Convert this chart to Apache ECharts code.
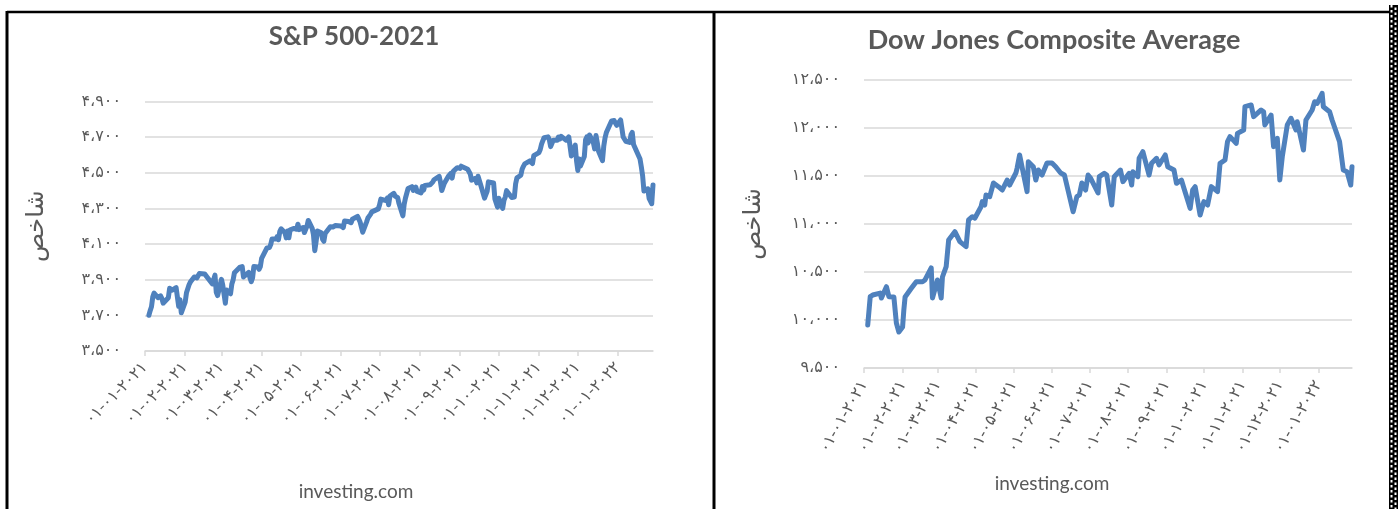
<!DOCTYPE html>
<html>
<head>
<meta charset="utf-8">
<script src="https://cdn.jsdelivr.net/npm/echarts@6/dist/echarts.min.js"></script>
<style>
html,body{margin:0;padding:0;background:#fff;}
#c{width:1398px;height:509px;}
</style>
</head>
<body>
<div id="c"></div>
<script>
// ---------- S&P 500 (left chart) ----------
const spDates = [
'2021-01-04','2021-01-05','2021-01-06','2021-01-07','2021-01-08','2021-01-11','2021-01-12','2021-01-13','2021-01-14','2021-01-15','2021-01-19','2021-01-20','2021-01-21','2021-01-22','2021-01-25','2021-01-26','2021-01-27','2021-01-28','2021-01-29',
'2021-02-01','2021-02-02','2021-02-03','2021-02-04','2021-02-05','2021-02-08','2021-02-09','2021-02-10','2021-02-11','2021-02-12','2021-02-16','2021-02-17','2021-02-18','2021-02-19','2021-02-22','2021-02-23','2021-02-24','2021-02-25','2021-02-26',
'2021-03-01','2021-03-02','2021-03-03','2021-03-04','2021-03-05','2021-03-08','2021-03-09','2021-03-10','2021-03-11','2021-03-12','2021-03-15','2021-03-16','2021-03-17','2021-03-18','2021-03-19','2021-03-22','2021-03-23','2021-03-24','2021-03-25','2021-03-26','2021-03-29','2021-03-30','2021-03-31',
'2021-04-01','2021-04-05','2021-04-06','2021-04-07','2021-04-08','2021-04-09','2021-04-12','2021-04-13','2021-04-14','2021-04-15','2021-04-16','2021-04-19','2021-04-20','2021-04-21','2021-04-22','2021-04-23','2021-04-26','2021-04-27','2021-04-28','2021-04-29','2021-04-30',
'2021-05-03','2021-05-04','2021-05-05','2021-05-06','2021-05-07','2021-05-10','2021-05-11','2021-05-12','2021-05-13','2021-05-14','2021-05-17','2021-05-18','2021-05-19','2021-05-20','2021-05-21','2021-05-24','2021-05-25','2021-05-26','2021-05-27','2021-05-28',
'2021-06-01','2021-06-02','2021-06-03','2021-06-04','2021-06-07','2021-06-08','2021-06-09','2021-06-10','2021-06-11','2021-06-14','2021-06-15','2021-06-16','2021-06-17','2021-06-18','2021-06-21','2021-06-22','2021-06-23','2021-06-24','2021-06-25','2021-06-28','2021-06-29','2021-06-30',
'2021-07-01','2021-07-02','2021-07-06','2021-07-07','2021-07-08','2021-07-09','2021-07-12','2021-07-13','2021-07-14','2021-07-15','2021-07-16','2021-07-19','2021-07-20','2021-07-21','2021-07-22','2021-07-23','2021-07-26','2021-07-27','2021-07-28','2021-07-29','2021-07-30',
'2021-08-02','2021-08-03','2021-08-04','2021-08-05','2021-08-06','2021-08-09','2021-08-10','2021-08-11','2021-08-12','2021-08-13','2021-08-16','2021-08-17','2021-08-18','2021-08-19','2021-08-20','2021-08-23','2021-08-24','2021-08-25','2021-08-26','2021-08-27','2021-08-30','2021-08-31',
'2021-09-01','2021-09-02','2021-09-03','2021-09-07','2021-09-08','2021-09-09','2021-09-10','2021-09-13','2021-09-14','2021-09-15','2021-09-16','2021-09-17','2021-09-20','2021-09-21','2021-09-22','2021-09-23','2021-09-24','2021-09-27','2021-09-28','2021-09-29','2021-09-30',
'2021-10-01','2021-10-04','2021-10-05','2021-10-06','2021-10-07','2021-10-08','2021-10-11','2021-10-12','2021-10-13','2021-10-14','2021-10-15','2021-10-18','2021-10-19','2021-10-20','2021-10-21','2021-10-22','2021-10-25','2021-10-26','2021-10-27','2021-10-28','2021-10-29',
'2021-11-01','2021-11-02','2021-11-03','2021-11-04','2021-11-05','2021-11-08','2021-11-09','2021-11-10','2021-11-11','2021-11-12','2021-11-15','2021-11-16','2021-11-17','2021-11-18','2021-11-19','2021-11-22','2021-11-23','2021-11-24','2021-11-26','2021-11-29','2021-11-30',
'2021-12-01','2021-12-02','2021-12-03','2021-12-06','2021-12-07','2021-12-08','2021-12-09','2021-12-10','2021-12-13','2021-12-14','2021-12-15','2021-12-16','2021-12-17','2021-12-20','2021-12-21','2021-12-22','2021-12-23','2021-12-27','2021-12-28','2021-12-29','2021-12-30','2021-12-31',
'2022-01-03','2022-01-04','2022-01-05','2022-01-06','2022-01-07','2022-01-10','2022-01-11','2022-01-12','2022-01-13','2022-01-14','2022-01-18','2022-01-19','2022-01-20','2022-01-21','2022-01-24','2022-01-25','2022-01-26','2022-01-27','2022-01-28'
];
const spClose = [
3700.65,3726.86,3748.14,3803.79,3824.68,3799.61,3801.19,3809.84,3795.54,3768.25,3798.91,3851.85,3853.07,3841.47,3855.36,3849.62,3750.77,3787.38,3714.24,
3773.86,3826.31,3830.17,3871.74,3886.83,3915.59,3911.23,3909.88,3916.38,3934.83,3932.59,3931.33,3913.97,3906.71,3876.50,3881.37,3925.43,3829.34,3811.15,
3901.82,3870.29,3819.72,3768.47,3841.94,3821.35,3875.44,3898.81,3939.34,3943.34,3968.94,3962.71,3974.12,3915.46,3913.10,3940.59,3910.52,3889.14,3909.52,3974.54,3971.09,3958.55,3972.89,
4019.87,4077.91,4073.94,4079.95,4097.17,4128.80,4127.99,4141.59,4124.66,4170.42,4185.47,4163.26,4134.94,4173.42,4134.98,4180.17,4187.62,4186.72,4183.18,4211.47,4181.17,
4192.66,4164.66,4167.59,4201.62,4232.60,4188.43,4152.10,4063.04,4112.50,4173.85,4163.29,4127.83,4115.68,4159.12,4155.86,4197.05,4188.13,4195.99,4200.88,4204.11,
4202.04,4208.12,4192.85,4229.89,4226.52,4227.26,4219.55,4239.18,4247.44,4255.15,4246.59,4223.70,4221.86,4166.45,4224.79,4246.44,4241.84,4266.49,4280.70,4290.61,4291.80,4297.50,
4319.94,4352.34,4343.54,4358.13,4320.82,4369.55,4384.63,4369.21,4374.30,4360.03,4327.16,4258.49,4323.06,4358.69,4367.48,4411.79,4422.30,4401.46,4400.64,4419.15,4395.26,
4387.16,4423.15,4402.66,4429.10,4436.52,4432.35,4436.75,4447.70,4460.83,4468.00,4479.71,4448.08,4400.27,4405.80,4441.67,4479.53,4486.23,4496.19,4470.00,4509.37,4528.79,4522.68,
4524.09,4536.95,4535.43,4520.03,4514.07,4493.28,4458.58,4468.73,4443.05,4480.70,4473.75,4432.99,4357.73,4354.19,4395.64,4448.98,4455.48,4443.11,4352.63,4359.46,4307.54,
4357.04,4300.46,4345.72,4363.55,4399.76,4391.34,4361.19,4350.65,4363.80,4438.26,4471.37,4486.46,4519.63,4536.19,4549.78,4544.90,4566.48,4574.79,4551.68,4596.42,4605.38,
4613.67,4630.65,4660.57,4680.06,4697.53,4701.70,4685.25,4646.71,4649.27,4682.85,4682.80,4700.90,4688.67,4704.54,4697.96,4682.94,4690.70,4701.46,4594.62,4655.27,4567.00,
4513.04,4577.10,4538.43,4591.67,4686.75,4701.21,4667.45,4712.02,4668.97,4634.09,4709.85,4668.67,4620.64,4568.02,4649.23,4696.56,4725.79,4791.19,4786.35,4793.06,4778.73,4766.18,
4796.56,4793.54,4700.58,4696.05,4677.03,4670.29,4713.07,4726.35,4659.03,4662.85,4577.11,4532.76,4482.73,4397.94,4410.13,4356.45,4349.93,4326.51,4431.85
];

// ---------- Dow Jones Composite Average (right chart) ----------
const djDates = [
'2021-01-04','2021-01-06','2021-01-08','2021-01-14','2021-01-15','2021-01-19','2021-01-21','2021-01-25','2021-01-27','2021-01-29',
'2021-02-01','2021-02-02','2021-02-03','2021-02-08','2021-02-12','2021-02-17','2021-02-19','2021-02-24','2021-02-25',
'2021-03-01','2021-03-02','2021-03-04','2021-03-05','2021-03-08','2021-03-10','2021-03-15','2021-03-17','2021-03-19','2021-03-24','2021-03-26','2021-03-29','2021-03-31',
'2021-04-05','2021-04-06','2021-04-08','2021-04-09','2021-04-12','2021-04-15','2021-04-19','2021-04-22','2021-04-26','2021-04-28',
'2021-05-03','2021-05-04','2021-05-06','2021-05-07','2021-05-12','2021-05-13','2021-05-17','2021-05-19','2021-05-21','2021-05-24','2021-05-28',
'2021-06-01','2021-06-04','2021-06-08','2021-06-11','2021-06-18','2021-06-21','2021-06-23','2021-06-25','2021-06-28','2021-06-30',
'2021-07-02','2021-07-08','2021-07-09','2021-07-13','2021-07-15','2021-07-19','2021-07-21','2021-07-26','2021-07-28',
'2021-08-02','2021-08-04','2021-08-05','2021-08-09','2021-08-10','2021-08-13','2021-08-18','2021-08-20','2021-08-24','2021-08-26','2021-08-31',
'2021-09-02','2021-09-07','2021-09-09','2021-09-13','2021-09-15','2021-09-20','2021-09-22','2021-09-24','2021-09-28',
'2021-10-01','2021-10-04','2021-10-07','2021-10-08','2021-10-12','2021-10-14','2021-10-18','2021-10-20','2021-10-22','2021-10-27','2021-10-28',
'2021-11-02','2021-11-03','2021-11-08','2021-11-09','2021-11-10','2021-11-16','2021-11-18','2021-11-19','2021-11-24','2021-11-26','2021-11-29',
'2021-12-01','2021-12-03','2021-12-07','2021-12-10','2021-12-14','2021-12-15','2021-12-20','2021-12-22','2021-12-27','2021-12-29','2021-12-31',
'2022-01-04','2022-01-05','2022-01-10','2022-01-12','2022-01-13','2022-01-18','2022-01-21','2022-01-24','2022-01-25','2022-01-27','2022-01-28'
];
const djClose = [
9948,10243,10260,10280,10229,10347,10243,10240,9969,9875,
9927,10104,10240,10330,10399,10399,10417,10542,10229,
10417,10437,10229,10448,10555,10833,10920,10868,10816,10764,11042,11076,11060,
11180,11233,11198,11302,11285,11427,11389,11354,11458,11406,
11531,11583,11719,11729,11337,11649,11597,11458,11562,11510,11635,
11635,11597,11531,11510,11128,11285,11302,11427,11354,11510,
11479,11323,11493,11528,11510,11198,11493,11562,11441,
11528,11406,11545,11493,11684,11753,11510,11632,11684,11615,11719,
11597,11562,11424,11458,11372,11163,11354,11389,11094,
11233,11198,11389,11406,11337,11632,11667,11858,11910,11840,11944,
11979,12222,12240,12229,12118,12188,12170,12031,12135,11806,11892,
11458,11701,12031,12101,11979,12066,11771,12083,12188,12274,12257,
12361,12222,12170,12083,12066,11858,11562,11545,11562,11406,11597
];

// ---------- axis ticks ----------
const tickMonths = ['2021-01','2021-02','2021-03','2021-04','2021-05','2021-06','2021-07','2021-08','2021-09','2021-10','2021-11','2021-12','2022-01'];
const spYTicks = {min:3500, max:4900, step:200};
const djYTicks = {min:9500, max:12500, step:500};
const titles = ['S&P 500-2021', 'Dow Jones Composite Average'];
const sourceText = 'investing.com';
const yName = 'شاخص';

// ---------- helpers ----------
const FA = '۰۱۲۳۴۵۶۷۸۹';
function toFa(s){ return String(s).replace(/[0-9]/g, d => FA[+d]); }
function fmtNum(v){
  const s = String(Math.round(v));
  return toFa(s.replace(/\B(?=(\d{3})+(?!\d))/g, '،'));
}
function ts(str){ const p = str.split('-').map(Number); return Date.UTC(p[0], p[1]-1, p[2] || 1); }
function fmtDate(v){
  const d = new Date(v);
  const pad = n => (n < 10 ? '0' : '') + n;
  return toFa(pad(d.getUTCDate()) + '-' + pad(d.getUTCMonth()+1) + '-' + d.getUTCFullYear());
}
const tickTs = tickMonths.map(m => ts(m));
const xMin = ts('2021-01-01'), xMax = ts('2022-01-28');

const GRID = '#D9D9D9', TXT = '#595959', LINE = '#4F81BD';
const FONT = 'Lato, "DejaVu Sans", sans-serif';
const AFONT = '"DejaVu Sans", sans-serif';

function xAxis(idx, rot, margin){
  return {
    type:'value', gridIndex: idx, min: xMin, max: xMax, scale:true,
    axisLine:{show:true, onZero:false, lineStyle:{color:GRID, width:1.5}},
    axisTick:{show:true, customValues: tickTs, length:5, lineStyle:{color:GRID, width:1.5}},
    axisLabel:{show:true, customValues: tickTs, rotate: rot, margin: margin, formatter: v => fmtDate(v),
      color: TXT, fontSize: 16, fontFamily: AFONT, hideOverlap:false, showMinLabel:true, showMaxLabel:true},
    splitLine:{show:false}
  };
}
function yAxis(idx, t, gap, margin){
  return {
    type:'value', gridIndex: idx, min:t.min, max:t.max, interval:t.step,
    axisLine:{show:false}, axisTick:{show:false},
    splitLine:{show:true, lineStyle:{color:GRID, width:1.5}},
    axisLabel:{formatter: v => fmtNum(v), color:TXT, fontSize:16, fontFamily: AFONT, margin: margin},
    name: yName, nameLocation:'middle', nameGap: gap, nameRotate: 90,
    nameTextStyle:{color:TXT, fontSize:24, fontFamily: AFONT}
  };
}
function lineSeries(idx, dates, vals){
  return {
    type:'line', xAxisIndex: idx, yAxisIndex: idx, showSymbol:false, symbol:'none',
    data: dates.map((d,i) => [ts(d), vals[i]]),
    lineStyle:{color:LINE, width:5, cap:'round', join:'round'},
    itemStyle:{color:LINE}, animation:false
  };
}

const chart = echarts.init(document.getElementById('c'), null, {renderer:'canvas'});
chart.setOption({
  backgroundColor:'#ffffff',
  animation:false,
  grid:[
    {left:145, top:101.5, width:508, height:249.5},
    {left:864, top:80, width:488, height:288}
  ],
  xAxis:[ xAxis(0, 45, 14), xAxis(1, 60, 14) ],
  yAxis:[ yAxis(0, spYTicks, 96, 24), yAxis(1, djYTicks, 98, 24) ],
  series:[ lineSeries(0, spDates, spClose), lineSeries(1, djDates, djClose) ],
  graphic:[
    {type:'line', shape:{x1:7, y1:12, x2:1390, y2:12}, style:{stroke:'#000', lineWidth:2.5}},
    {type:'line', shape:{x1:7, y1:11, x2:7, y2:509}, style:{stroke:'#000', lineWidth:3}},
    {type:'line', shape:{x1:714, y1:11, x2:714, y2:509}, style:{stroke:'#000', lineWidth:3}},
    {type:'rect', shape:{x:1389, y:5, width:9, height:504}, style:{fill:'#000'}},
    {type:'line', shape:{x1:1391.5, y1:5, x2:1391.5, y2:509}, style:{stroke:'#fff', lineWidth:2, lineDash:[2.5,2.5], lineDashOffset:0}},
    {type:'line', shape:{x1:1395.5, y1:5, x2:1395.5, y2:509}, style:{stroke:'#fff', lineWidth:2, lineDash:[2.5,2.5], lineDashOffset:2.5}},
    {type:'text', x:354, y:37, style:{text:titles[0], fill:TXT, font:'bold 26px ' + FONT, align:'center', verticalAlign:'middle'}},
    {type:'text', x:1054, y:40, style:{text:titles[1], fill:TXT, font:'bold 27px ' + FONT, align:'center', verticalAlign:'middle'}},
    {type:'text', x:356, y:492, style:{text:sourceText, fill:TXT, font:'19px ' + FONT, align:'center', verticalAlign:'middle'}},
    {type:'text', x:1052, y:484, style:{text:sourceText, fill:TXT, font:'19px ' + FONT, align:'center', verticalAlign:'middle'}}
  ]
});
</script>
</body>
</html>
